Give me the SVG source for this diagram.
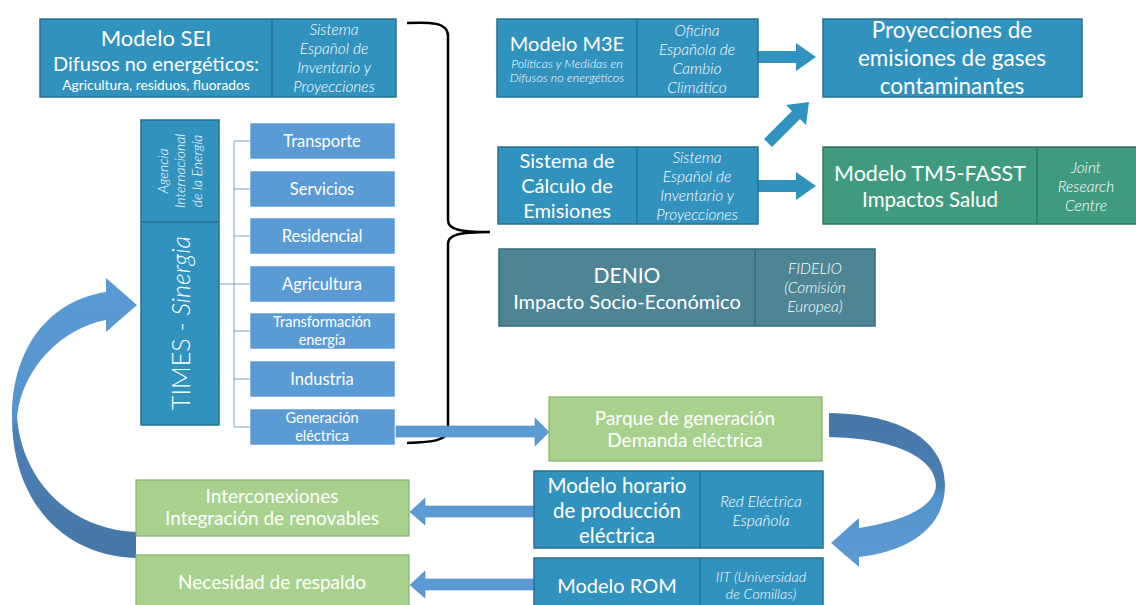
<svg xmlns="http://www.w3.org/2000/svg" width="1136" height="605" viewBox="0 0 1136 605">
<defs>
<style>
text{font-family:Lato,"Liberation Sans",sans-serif;fill:#fff;text-anchor:middle}
.t{fill:#3292BE;stroke:#25708F;stroke-width:1.5}
.s{fill:#5B9BD5;stroke:#fff;stroke-width:0.5}
.g{fill:#A9D18E;stroke:#86B266;stroke-width:1.2}
.big{font-size:20px}
.it{font-size:15.5px;font-style:italic;font-weight:300}
.sec{font-size:16.5px}
.sec2{font-size:14.5px}
.mid{font-size:19px}
.tree{stroke:#7FA6C9;stroke-width:1;fill:none}
.ta{fill:#3292BE}
.ba{fill:#5B9BD5;stroke:#4F8BC5;stroke-width:0.6}
</style>
<linearGradient id="gl" x1="0" y1="0" x2="0" y2="1">
<stop offset="0" stop-color="#5B9BD5"/><stop offset="0.5" stop-color="#5593CC"/><stop offset="0.55" stop-color="#4A7FB3"/><stop offset="1" stop-color="#4676A8"/>
</linearGradient>
<linearGradient id="gr" x1="0" y1="0" x2="0" y2="1">
<stop offset="0" stop-color="#4676A8"/><stop offset="0.48" stop-color="#4A7FB3"/><stop offset="0.55" stop-color="#5593CC"/><stop offset="1" stop-color="#5B9BD5"/>
</linearGradient>
</defs>

<g id="connectors">
<path d="M407,23 C430,22 448,22 448,36 L448,220 C448,229 458,232 490,232 C458,232 448,235 448,244 L448,429 C448,441 432,442 407,443" fill="none" stroke="#000" stroke-width="2.5"/>
<path class="tree" d="M219,284 H250 M234,141 V427 M234,141 H250 M234,189 H250 M234,236 H250 M234,331 H250 M234,379 H250 M234,427 H250"/>
<path class="ta" d="M758,51 H796 V43 L816,57 L796,71 V63 H758 Z"/>
<path class="ta" d="M758,180 H796 V172 L816,186 L796,200 V192 H758 Z"/>
<path class="ta" d="M764,139 L792,111 L786,105 L809,102 L806,125 L800,119 L772,147 Z"/>
<path class="ba" d="M396,426 H535 V418 L549,432 L535,446 V437 H396 Z"/>
<path class="ba" d="M534,506 H425 V498 L410,512 L425,525 V517 H534 Z"/>
<path class="ba" d="M534,579 H425 V571 L410,585 L425,598 V590 H534 Z"/>
<path fill="url(#gl)" d="M136,558 C62,556 12,500 12,417 C12,345 52,300 106,292 L106,278 L137,305 L106,332 L106,320 C62,328 22,368 17,417 C22,482 72,530 136,532 Z"/>
<path fill="url(#gr)" d="M829,413 C900,414 945,440 945,485 C945,530 905,552 859,557 L859,567 L831,543 L859,518 L859,528 C896,522 935,510 936,485 C935,456 890,438 829,437 Z"/>
</g>

<g id="sei">
<rect class="t" x="40" y="19" width="356" height="78"/>
<line x1="272" y1="19" x2="272" y2="97" stroke="#25708F" stroke-width="1.5"/>
<text x="156" y="46" font-size="22">Modelo SEI</text>
<text x="156" y="71" class="big">Difusos no energéticos:</text>
<text x="156" y="90" font-size="13.8">Agricultura, residuos, fluorados</text>
<text class="it" x="334"><tspan x="334" y="35">Sistema</tspan><tspan x="334" y="54">Español de</tspan><tspan x="334" y="73">Inventario y</tspan><tspan x="334" y="92">Proyecciones</tspan></text>
</g>

<g id="m3e">
<rect class="t" x="497" y="19" width="261" height="78"/>
<line x1="637" y1="19" x2="637" y2="97" stroke="#25708F" stroke-width="1.5"/>
<text x="567" y="51" class="big">Modelo M3E</text>
<text x="567" y="68" font-size="12.5" font-style="italic" font-weight="300">Políticas y Medidas en</text>
<text x="567" y="82" font-size="12.5" font-style="italic" font-weight="300">Difusos no energéticos</text>
<text class="it" x="697"><tspan x="697" y="36">Oficina</tspan><tspan x="697" y="55">Española de</tspan><tspan x="697" y="74">Cambio</tspan><tspan x="697" y="93">Climático</tspan></text>
</g>

<g id="proyecciones">
<rect class="t" x="823" y="19" width="259" height="78"/>
<text font-size="22.5" x="952"><tspan x="952" y="38">Proyecciones de</tspan><tspan x="952" y="66">emisiones de gases</tspan><tspan x="952" y="94">contaminantes</tspan></text>
</g>

<g id="calculo">
<rect class="t" x="498" y="147" width="260" height="77"/>
<line x1="637" y1="147" x2="637" y2="224" stroke="#25708F" stroke-width="1.5"/>
<text class="big" x="567"><tspan x="567" y="168">Sistema de</tspan><tspan x="567" y="193">Cálculo de</tspan><tspan x="567" y="218">Emisiones</tspan></text>
<text class="it" x="697"><tspan x="697" y="163">Sistema</tspan><tspan x="697" y="182">Español de</tspan><tspan x="697" y="201">Inventario y</tspan><tspan x="697" y="220">Proyecciones</tspan></text>
</g>

<g id="tm5">
<rect x="823" y="147" width="320" height="77" fill="#3F9A7F" stroke="#2E7A63" stroke-width="1.5"/>
<line x1="1037" y1="147" x2="1037" y2="224" stroke="#2E7A63" stroke-width="1.5"/>
<text x="930" y="181" font-size="21.5">Modelo TM5-FASST</text>
<text x="930" y="207" font-size="20.5">Impactos Salud</text>
<text class="it" x="1086"><tspan x="1086" y="173">Joint</tspan><tspan x="1086" y="192">Research</tspan><tspan x="1086" y="211">Centre</tspan></text>
</g>

<g id="denio">
<rect x="499" y="249" width="376" height="77" fill="#4E8595" stroke="#356A79" stroke-width="1.5"/>
<line x1="755" y1="249" x2="755" y2="326" stroke="#356A79" stroke-width="1.5"/>
<text x="627" y="283" font-size="21">DENIO</text>
<text x="627" y="309" font-size="20">Impacto Socio-Económico</text>
<text class="it" x="815"><tspan x="815" y="274">FIDELIO</tspan><tspan x="815" y="293">(Comisión</tspan><tspan x="815" y="312">Europea)</tspan></text>
</g>

<g id="times">
<rect class="t" x="141" y="120" width="78" height="305"/>
<line x1="141" y1="222" x2="219" y2="222" stroke="#25708F" stroke-width="1.5"/>
<g transform="translate(182,171) rotate(-90)">
<text font-size="14" font-style="italic" font-weight="300" x="0"><tspan x="0" y="-14">Agencia</tspan><tspan x="0" y="3">Internacional</tspan><tspan x="0" y="20">de la Energía</tspan></text>
</g>
<text transform="translate(190,323) rotate(-90)" font-size="25" font-weight="300">TIMES - <tspan font-style="italic">Sinergia</tspan></text>
</g>

<g id="transporte"><rect class="s" x="250" y="123" width="145" height="36"/><text class="sec" x="322" y="147">Transporte</text></g>
<g id="servicios"><rect class="s" x="250" y="171" width="145" height="36"/><text class="sec" x="322" y="195">Servicios</text></g>
<g id="residencial"><rect class="s" x="250" y="218" width="145" height="36"/><text class="sec" x="322" y="242">Residencial</text></g>
<g id="agricultura"><rect class="s" x="250" y="266" width="145" height="36"/><text class="sec" x="322" y="290">Agricultura</text></g>
<g id="transformacion"><rect class="s" x="250" y="313" width="145" height="36"/><text class="sec2" x="322"><tspan x="322" y="327">Transformación</tspan><tspan x="322" y="345">energía</tspan></text></g>
<g id="industria"><rect class="s" x="250" y="361" width="145" height="36"/><text class="sec" x="322" y="385">Industria</text></g>
<g id="generacion"><rect class="s" x="250" y="409" width="145" height="36"/><text class="sec2" x="322"><tspan x="322" y="423">Generación</tspan><tspan x="322" y="441">eléctrica</tspan></text></g>

<g id="parque">
<rect class="g" x="549" y="397" width="273" height="64"/>
<text class="mid" x="685"><tspan x="685" y="425">Parque de generación</tspan><tspan x="685" y="447">Demanda eléctrica</tspan></text>
</g>

<g id="horario">
<rect class="t" x="534" y="471" width="289" height="77"/>
<line x1="700" y1="471" x2="700" y2="548" stroke="#25708F" stroke-width="1.5"/>
<text font-size="20.5" x="617"><tspan x="617" y="493">Modelo horario</tspan><tspan x="617" y="518">de producción</tspan><tspan x="617" y="543">eléctrica</tspan></text>
<text class="it" x="761"><tspan x="761" y="507">Red Eléctrica</tspan><tspan x="761" y="526">Española</tspan></text>
</g>

<g id="rom">
<rect class="t" x="534" y="558" width="289" height="55"/>
<line x1="700" y1="558" x2="700" y2="613" stroke="#25708F" stroke-width="1.5"/>
<text class="big" x="617" y="593">Modelo ROM</text>
<text font-size="14.4" font-style="italic" font-weight="300" x="761"><tspan x="761" y="582">IIT (Universidad</tspan><tspan x="761" y="599">de Comillas)</tspan></text>
</g>

<g id="interconexiones">
<rect class="g" x="136" y="480" width="273" height="56"/>
<text class="mid" x="272"><tspan x="272" y="503">Interconexiones</tspan><tspan x="272" y="525">Integración de renovables</tspan></text>
</g>

<g id="respaldo">
<rect class="g" x="136" y="555" width="273" height="55"/>
<text class="mid" x="272" y="589">Necesidad de respaldo</text>
</g>
</svg>
